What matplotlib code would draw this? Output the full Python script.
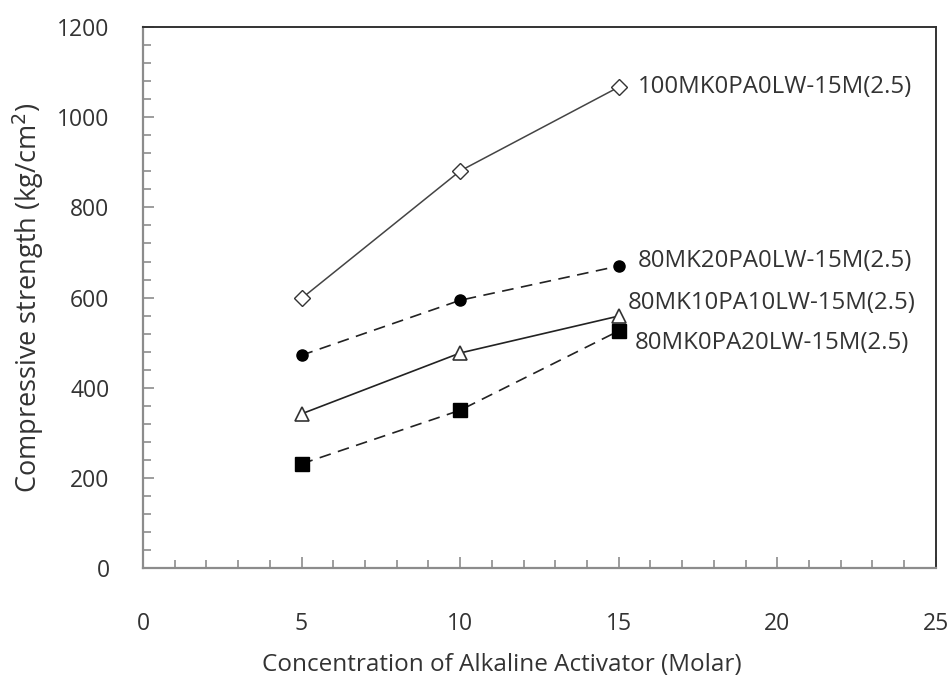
import matplotlib
matplotlib.use("Agg")
import matplotlib.pyplot as plt
from matplotlib.ticker import MultipleLocator

plt.rcParams["font.family"] = ["Open Sans", "DejaVu Sans"]

molar = [5, 10, 15]
series_names = [
    "100MK0PA0LW-15M(2.5)",
    "80MK20PA0LW-15M(2.5)",
    "80MK10PA10LW-15M(2.5)",
    "80MK0PA20LW-15M(2.5)",
]
strength_100mk = [598, 881, 1067]
strength_80mk20pa = [472, 594, 670]
strength_80mk10pa10lw = [342, 477, 559]
strength_80mk20lw = [231, 350, 526]

text_color = "#333333"
grey = "#8c8c8c"

fig = plt.figure(figsize=(9.53, 6.79), dpi=100)
ax = fig.add_axes([0.150, 0.1635, 0.832, 0.7965])

ax.plot(molar, strength_100mk, color="#444444", lw=1.1, marker="D", ms=8,
        mfc="white", mec="#333333", mew=1.0)
ax.plot(molar, strength_80mk20pa, color="#222222", lw=1.2, ls=(0, (7, 4.5)),
        marker="o", ms=8, mfc="black", mec="black")
ax.plot(molar, strength_80mk10pa10lw, color="#222222", lw=1.2, marker="^",
        ms=10, mfc="white", mec="#333333", mew=1.2)
ax.plot(molar, strength_80mk20lw, color="#222222", lw=1.2, ls=(0, (7, 4.5)),
        marker="s", ms=10, mfc="black", mec="black")

# series labels beside the last points
label_pos = [(15.6, 1067), (15.6, 681), (15.3, 588), (15.5, 500)]
for name, (lx, ly) in zip(series_names, label_pos):
    ax.text(lx, ly, name, fontsize=17.3, color=text_color, va="center", ha="left")

ax.set_xlim(0, 25)
ax.set_ylim(0, 1200)
ax.xaxis.set_major_locator(MultipleLocator(5))
ax.xaxis.set_minor_locator(MultipleLocator(1))
ax.yaxis.set_major_locator(MultipleLocator(200))
ax.yaxis.set_minor_locator(MultipleLocator(40))
ax.tick_params(which="both", direction="in", colors=grey, labelcolor=text_color,
               labelsize=16.5)
ax.tick_params(which="major", length=8, width=1.2)
ax.tick_params(which="minor", length=6, width=1.2)
ax.tick_params(axis="x", pad=32)
ax.tick_params(axis="y", pad=24)

ax.spines["left"].set_color(grey)
ax.spines["bottom"].set_color(grey)
ax.spines["left"].set_linewidth(1.6)
ax.spines["bottom"].set_linewidth(1.6)
ax.spines["top"].set_color("#333333")
ax.spines["right"].set_color("#333333")
ax.spines["top"].set_linewidth(1.4)
ax.spines["right"].set_linewidth(1.4)

ax.set_xlabel("Concentration of Alkaline Activator (Molar)", fontsize=17.5,
              color=text_color)
ax.xaxis.set_label_coords(0.453, -0.157)
ax.set_ylabel("Compressive strength (kg/cm$^2$)", fontsize=19.5,
              color=text_color, labelpad=8)

fig.savefig("out.png", dpi=100)
